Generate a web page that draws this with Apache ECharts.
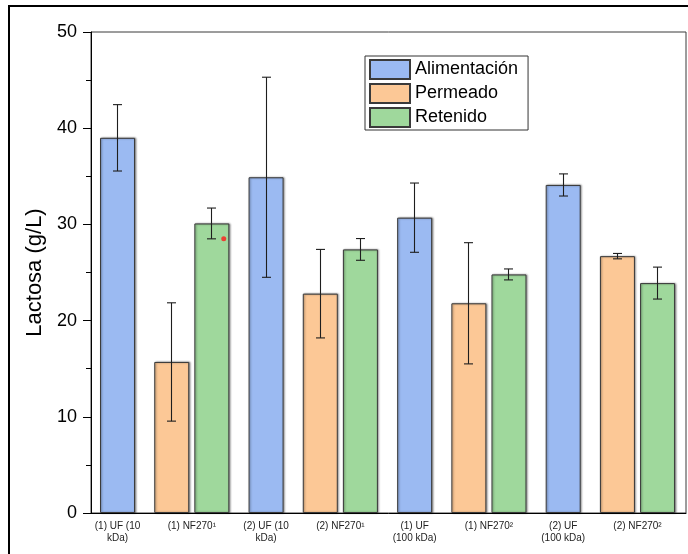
<!DOCTYPE html>
<html>
<head>
<meta charset="utf-8">
<script src="https://cdn.jsdelivr.net/npm/echarts@6/dist/echarts.min.js"></script>
<style>
  html, body { margin: 0; padding: 0; background: #ffffff; }
  #chart { width: 688px; height: 554px; }
</style>
</head>
<body>
<div id="chart"></div>
<script>
// Ensayos de filtración: concentración de lactosa (media ± desviación estándar)
const categorias = [
  '(1) UF (10\nkDa)', '(1) NF270¹', '(2) UF (10\nkDa)', '(2) NF270¹',
  '(1) UF\n(100 kDa)', '(1) NF270²', '(2) UF\n(100 kDa)', '(2) NF270²'
];
const alimentacion   = [39.0, null, 34.9, null, 30.7, null, 34.1, null];
const alimentacionDE = [3.45, null, 10.4, null, 3.6, null, 1.15, null];
const permeado       = [null, 15.7, null, 22.8, null, 21.8, null, 26.7];
const permeadoDE     = [null, 6.15, null, 4.6, null, 6.3, null, 0.28];
const retenido       = [null, 30.1, null, 27.4, null, 24.8, null, 23.9];
const retenidoDE     = [null, 1.6, null, 1.13, null, 0.57, null, 1.66];
const ticksY = [0, 10, 20, 30, 40, 50];
const puntoRojo = [[2.43, 28.5]];

const FONT = 'Arial, "Liberation Sans", sans-serif';
const posiciones = categorias.map((c, i) => i + 1);

// desplazamiento de cada serie dentro de su categoría (unidades del eje)
function puntos(valores, desv, desplaz) {
  const out = [];
  valores.forEach((v, i) => {
    if (v != null) out.push([posiciones[i] + desplaz, v, desv[i]]);
  });
  return out;
}

const series = [
  { name: 'Alimentación', valores: alimentacion, desv: alimentacionDE, desplaz: 0,     color: '#9bbaf2' },
  { name: 'Permeado',     valores: permeado,     desv: permeadoDE,     desplaz: -0.27, color: '#fcc896' },
  { name: 'Retenido',     valores: retenido,     desv: retenidoDE,     desplaz: 0.27,  color: '#9fd89c' }
];

function barrasError(params, api) {
  const x = api.value(0), y = api.value(1), e = api.value(2);
  const arriba = api.coord([x, y + e]);
  const abajo = api.coord([x, y - e]);
  const cx = Math.round(arriba[0] - 0.5) + 0.5;
  const hw = 4.5;
  const st = { stroke: '#1e1e1e', lineWidth: 1.1 };
  return {
    type: 'group',
    children: [
      { type: 'line', shape: { x1: cx, y1: arriba[1], x2: cx, y2: abajo[1] }, style: st },
      { type: 'line', shape: { x1: cx - hw, y1: arriba[1], x2: cx + hw, y2: arriba[1] }, style: st },
      { type: 'line', shape: { x1: cx - hw, y1: abajo[1], x2: cx + hw, y2: abajo[1] }, style: st }
    ]
  };
}

const seriesOpt = [];
series.forEach(s => {
  const d = puntos(s.valores, s.desv, s.desplaz);
  seriesOpt.push({
    name: s.name,
    type: 'bar',
    data: d.map(p => [p[0], p[1]]),
    barWidth: 35,
    barGap: '-100%',
    itemStyle: {
      color: s.color,
      borderColor: '#3a3a3a',
      borderWidth: 1,
      shadowBlur: 2,
      shadowColor: 'rgba(0,0,0,0.4)',
      shadowOffsetX: 1,
      shadowOffsetY: 0
    },
    emphasis: { disabled: true },
    z: 2
  });
  seriesOpt.push({
    name: s.name + ' DE',
    type: 'custom',
    data: d,
    renderItem: barrasError,
    encode: { x: 0, y: 1 },
    z: 3,
    silent: true
  });
});
seriesOpt.push({
  type: 'scatter',
  data: puntoRojo,
  symbolSize: 5,
  itemStyle: { color: '#ff1a1a' },
  silent: true,
  z: 4
});

const chart = echarts.init(document.getElementById('chart'), null, { renderer: 'canvas' });
chart.setOption({
  animation: false,
  backgroundColor: '#ffffff',
  textStyle: { fontFamily: FONT },
  grid: {
    left: 91, right: 2, top: 32, bottom: 41,
    show: true, borderColor: '#3a3a3a', borderWidth: 1, backgroundColor: 'transparent'
  },
  legend: {
    data: series.map(s => s.name),
    orient: 'vertical',
    left: 365, top: 56,
    itemWidth: 40, itemHeight: 19, itemGap: 3,
    padding: [3, 10, 2, 4],
    borderColor: '#333333', borderWidth: 1,
    selectedMode: false,
    icon: 'rect',
    textStyle: { fontSize: 18, lineHeight: 19, color: '#000000', fontFamily: FONT }
  },
  xAxis: {
    type: 'value',
    min: 0.643, max: 8.653,
    axisLine: { show: true, lineStyle: { color: '#000000', width: 1 } },
    axisTick: { show: false },
    splitLine: { show: false },
    axisLabel: {
      customValues: posiciones,
      formatter: v => categorias[Math.round(v) - 1] || '',
      fontSize: 10, lineHeight: 12, color: '#222222', margin: 7, align: 'center'
    }
  },
  yAxis: {
    type: 'value',
    min: ticksY[0], max: ticksY[ticksY.length - 1], interval: 10,
    name: 'Lactosa (g/L)',
    nameLocation: 'middle',
    nameGap: 43,
    nameTextStyle: { fontSize: 22, color: '#000000', fontFamily: FONT },
    axisLine: { show: true, lineStyle: { color: '#000000', width: 1 } },
    axisTick: { show: true, inside: false, length: 8, lineStyle: { color: '#000000' } },
    minorTick: { show: true, splitNumber: 2, length: 5, lineStyle: { color: '#000000' } },
    splitLine: { show: false },
    axisLabel: { fontSize: 18, color: '#000000', margin: 14 }
  },
  graphic: [{
    type: 'rect',
    shape: { x: 9, y: 6, width: 720, height: 600 },
    style: { fill: null, stroke: '#000000', lineWidth: 2 },
    silent: true,
    z: 100
  }],
  series: seriesOpt
});
</script>
</body>
</html>
